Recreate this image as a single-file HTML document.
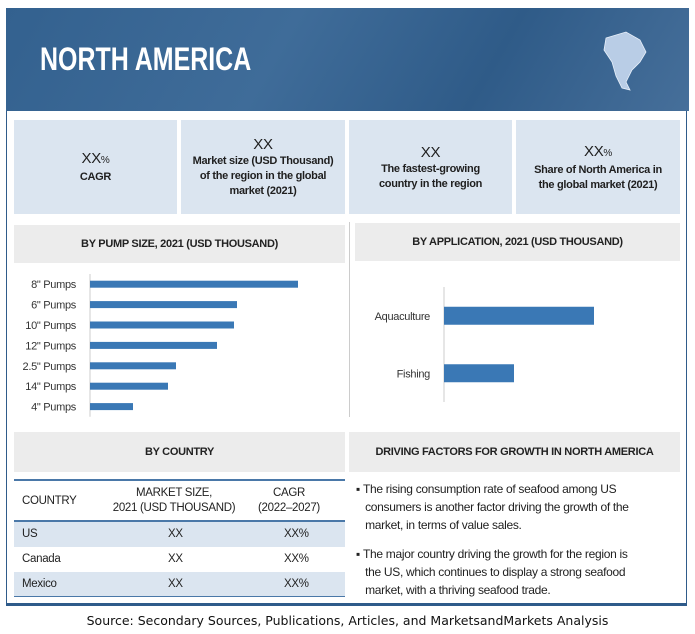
<!DOCTYPE html>
<html><head><meta charset="utf-8"><style>
body{margin:0;width:695px;height:634px;background:#fff;font-family:"Liberation Sans",sans-serif;position:relative;overflow:hidden}
.a{position:absolute}
.box{position:absolute;background:#dbe5f0;text-align:center;color:#1f1f1f;font-size:11px;font-weight:bold;display:flex;flex-direction:column;justify-content:center;line-height:15px;letter-spacing:-0.3px}
.big{font-size:15px;font-weight:normal;line-height:19px}
.hd{position:absolute;background:#ececec;display:flex;align-items:center;justify-content:center;font-size:11px;font-weight:bold;color:#222;letter-spacing:-0.3px}
.tx{font-size:12px;color:#222;letter-spacing:-0.3px}
</style></head><body>
<div class="a" style="left:6px;top:8px;width:681px;height:598px;border:1px solid #2f5b8a;border-bottom:3px solid #2f5b8a;box-sizing:border-box"></div>
<div class="a" style="left:6px;top:8px;width:683px;height:103px;background:linear-gradient(120deg,#33618f,#3f6c99 40%,#2f5b88 70%,#466f9a)"></div>
<div class="a" style="left:40px;top:41px;color:#fff;font-size:32px;font-weight:bold;transform:scaleX(0.78);transform-origin:left top">NORTH AMERICA</div>
<svg class="a" style="left:596px;top:28px" width="58" height="70"><path d="M10 10 L30 4 L44 12 L50 24 L44 34 L36 42 L30 54 L34 62 L26 60 L20 48 L16 34 L8 22 Z" fill="#b9cde6" stroke="#e8f0fa" stroke-width="0.8"/></svg>
<div class="box" style="left:14px;top:120px;width:163px;height:94px"><div class="big">XX<span style="font-size:10px">%</span></div><div>CAGR</div></div>
<div class="box" style="left:181px;top:120px;width:164px;height:94px"><div class="big">XX</div><div>Market size (USD Thousand)<br>of the region in the global<br>market (2021)</div></div>
<div class="box" style="left:349px;top:120px;width:163px;height:94px"><div class="big">XX</div><div>The fastest-growing<br>country in the region</div></div>
<div class="box" style="left:516px;top:120px;width:164px;height:94px"><div class="big">XX<span style="font-size:10px">%</span></div><div>Share of North America in<br>the global market (2021)</div></div>
<div class="hd" style="left:14px;top:225px;width:331px;height:38px">BY PUMP SIZE, 2021 (USD THOUSAND)</div>
<div class="hd" style="left:355px;top:223px;width:325px;height:38px">BY APPLICATION, 2021 (USD THOUSAND)</div>
<div class="a" style="left:349px;top:222px;width:1px;height:195px;background:#ccc"></div>
<svg class="a" id="c" style="left:0;top:0" width="695" height="634"></svg>
<div class="hd" style="left:14px;top:432px;width:331px;height:40px">BY COUNTRY</div>
<div class="hd" style="left:349px;top:432px;width:331px;height:40px">DRIVING FACTORS FOR GROWTH IN NORTH AMERICA</div>
<div class="a" style="left:14px;top:479px;width:331px;height:118px;font-size:11.5px;color:#222;letter-spacing:-0.3px">
<div class="a" style="left:0;top:0;width:331px;height:2px;background:#4a78a8"></div>
<div class="a" style="left:8px;top:2px;height:40px;line-height:40px">COUNTRY</div>
<div class="a" style="left:95px;width:130px;top:7px;text-align:center;line-height:15px">MARKET SIZE,<br>2021 (USD THOUSAND)</div>
<div class="a" style="left:235px;width:80px;top:7px;text-align:center;line-height:15px">CAGR<br>(2022–2027)</div>
<div class="a" style="left:0;top:41px;width:331px;height:2px;background:#4a78a8"></div>
<div class="a" style="left:0;top:43px;width:331px;height:25px;background:#dbe5f0;line-height:25px"><span class="a" style="left:8px">US</span><span class="a" style="left:154px">XX</span><span class="a" style="left:270px">XX%</span></div>
<div class="a" style="left:0;top:68px;width:331px;height:25px;line-height:25px"><span class="a" style="left:8px">Canada</span><span class="a" style="left:154px">XX</span><span class="a" style="left:270px">XX%</span></div>
<div class="a" style="left:0;top:93px;width:331px;height:24px;background:#dbe5f0;line-height:24px;border-bottom:1px solid #4a78a8"><span class="a" style="left:8px">Mexico</span><span class="a" style="left:154px">XX</span><span class="a" style="left:270px">XX%</span></div>
</div>
<div class="a tx" style="left:356px;top:480px;width:325px;line-height:18px">▪&nbsp;The rising consumption rate of seafood among US<br>&nbsp;&nbsp;&nbsp;consumers is another factor driving the growth of the<br>&nbsp;&nbsp;&nbsp;market, in terms of value sales.</div>
<div class="a tx" style="left:356px;top:545px;width:325px;line-height:18px">▪&nbsp;The major country driving the growth for the region is<br>&nbsp;&nbsp;&nbsp;the US, which continues to display a strong seafood<br>&nbsp;&nbsp;&nbsp;market, with a thriving seafood trade.</div>
<div class="a" style="left:0;width:695px;top:613px;text-align:center;font-family:'DejaVu Sans',sans-serif;font-size:12.5px;color:#111">Source: Secondary Sources, Publications, Articles, and MarketsandMarkets Analysis</div>
<script>
const pumpCats=['8" Pumps','6" Pumps','10" Pumps','12" Pumps','2.5" Pumps','14" Pumps','4" Pumps'];
const pumpVals=[208,147,144,127,86,78,43];
const appCats=['Aquaculture','Fishing'];
const appVals=[150,70];
const svg=document.getElementById('c');const NS='http://www.w3.org/2000/svg';
function mk(t,a){const e=document.createElementNS(NS,t);for(const k in a)e.setAttribute(k,a[k]);svg.appendChild(e);return e;}
const px0=90,pxs=1.0,py0=274,pstep=20.4;
let ax=mk('line',{x1:px0,x2:px0,y1:py0,y2:py0+pstep*pumpCats.length,stroke:'#ccc'});

pumpCats.forEach((c,i)=>{const cy=py0+pstep*(i+0.5);
const r=mk('rect',{x:px0,y:cy-3.5,width:pumpVals[i]*pxs,height:7,fill:'#3a78b5'});

const t=mk('text',{x:px0-14,y:cy+4,'text-anchor':'end','font-size':11,fill:'#333','font-family':'Liberation Sans,sans-serif','letter-spacing':'-0.3'});t.textContent=c;
});
const ax0=444,axs=1.0,ay0=287,astep=57.5;
let ax2=mk('line',{x1:ax0,x2:ax0,y1:ay0,y2:ay0+astep*appCats.length,stroke:'#ccc'});

appCats.forEach((c,i)=>{const cy=ay0+astep*(i+0.5);
const r=mk('rect',{x:ax0,y:cy-9,width:appVals[i]*axs,height:18,fill:'#3a78b5'});

const t=mk('text',{x:ax0-14,y:cy+4,'text-anchor':'end','font-size':11,fill:'#333','font-family':'Liberation Sans,sans-serif','letter-spacing':'-0.3'});t.textContent=c;
});
</script>
</body></html>
